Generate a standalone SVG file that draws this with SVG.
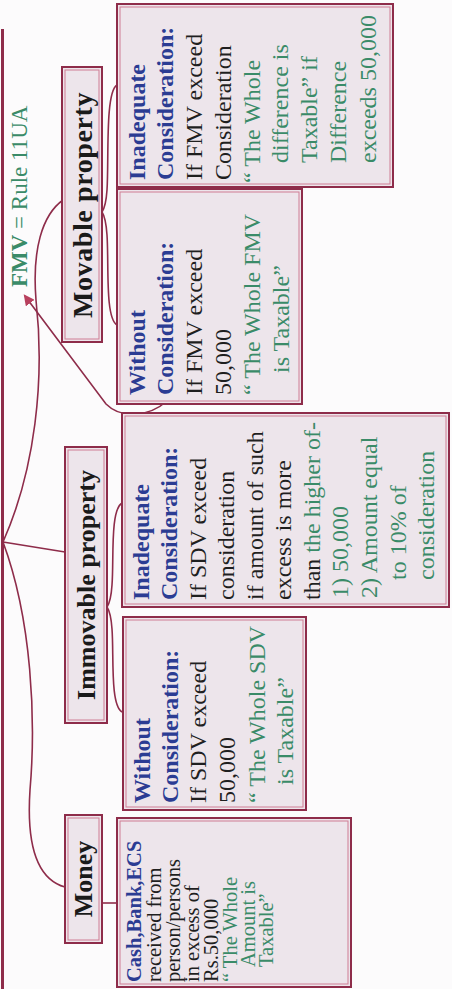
<svg xmlns="http://www.w3.org/2000/svg" width="452" height="989" viewBox="0 0 452 989">
<defs>
<style>
.box{fill:#ede5eb;stroke:#8e2c4a;stroke-width:2}
.inner{fill:none;stroke:#cf7d94;stroke-width:1}
.t{font-family:"Liberation Serif","Times New Roman",serif;font-size:24px;fill:#1f1f1f}
.s{font-size:20.5px}
.h{font-weight:bold;fill:#2b3c93}
.g{fill:#3a8b68}
.big{font-family:"Liberation Serif","Times New Roman",serif;font-size:26px;font-weight:bold;fill:#1a1a1a}
.c{fill:none;stroke:#8e2c4a;stroke-width:1.6}
</style>
<marker id="ah" viewBox="0 0 10 10" refX="8" refY="5" markerWidth="11" markerHeight="11" markerUnits="userSpaceOnUse" orient="auto">
<path d="M0,0 L10,5 L0,10 z" fill="#b8405e"/>
</marker>
</defs>
<rect width="452" height="989" fill="#fcfbfc"/>

<g id="connectors">
<line x1="2.5" y1="29" x2="2.5" y2="989" stroke="#8e2c4a" stroke-width="3"/>
<path class="c" d="M3,542 L65,552"/>
<path class="c" d="M3,542 C35,470 45,380 36,300 C32,250 42,215 63,200"/>
<path class="c" d="M3,542 C32,620 36,720 30,790 C26,850 40,880 65,887"/>
<path class="c" d="M102,903 L117,903"/>
<path class="c" d="M122,503 C110,510 114,560 112,585 C111,600 109,604 107,607 C109,610 111,614 112,629 C114,655 110,705 122,712"/>
<path class="c" d="M117,85 C105,92 109,160 107,190 C106,205 104,209 102,212 C104,215 106,220 107,235 C109,265 105,318 117,325"/>
<path class="c" d="M167,401 C150,416 122,420 106,404 L25,296" marker-end="url(#ah)"/>
</g>

<g id="fmv">
<text class="t g" transform="translate(0,287) rotate(-90)" x="0" y="27" style="font-size:23px"><tspan font-weight="bold">FMV</tspan> = Rule 11UA</text>
</g>

<g id="money">
<rect class="box" x="65" y="815" width="37" height="128"/>
<rect class="inner" x="68" y="818" width="31" height="122"/>
<text class="big" transform="translate(0,879) rotate(-90)" x="0" y="92" text-anchor="middle">Money</text>
</g>

<g id="immovable">
<rect class="box" x="65" y="447" width="42" height="276"/>
<rect class="inner" x="68" y="450" width="36" height="270"/>
<text class="big" transform="translate(0,585) rotate(-90)" x="0" y="95" text-anchor="middle">Immovable property</text>
</g>

<g id="movable">
<rect class="box" x="62" y="67" width="40" height="275"/>
<rect class="inner" x="65" y="70" width="34" height="269"/>
<text class="big" transform="translate(0,205) rotate(-90)" x="0" y="92" text-anchor="middle" style="font-size:28px;letter-spacing:0.6px">Movable property</text>
</g>

<g id="cash">
<rect class="box" x="117" y="818" width="234" height="169"/>
<rect class="inner" x="120" y="821" width="228" height="163"/>
<text class="t s" transform="translate(0,982) rotate(-90)">
<tspan class="h" x="0" y="141">Cash,Bank,ECS</tspan>
<tspan x="0" y="161">received from</tspan>
<tspan x="0" y="180">person/persons</tspan>
<tspan x="0" y="199">in excess of</tspan>
<tspan x="0" y="218">Rs.50,000</tspan>
<tspan class="g" x="0" y="237">“ The Whole</tspan>
<tspan class="g" x="15" y="255">Amount is</tspan>
<tspan class="g" x="15" y="273">Taxable”</tspan>
</text>
</g>

<g id="immovable-without">
<rect class="box" x="123" y="617" width="183" height="193"/>
<rect class="inner" x="126" y="620" width="177" height="187"/>
<text class="t" transform="translate(0,803) rotate(-90)">
<tspan class="h" x="0" y="150">Without</tspan>
<tspan class="h" x="0" y="178">Consideration:</tspan>
<tspan x="0" y="206">If SDV exceed</tspan>
<tspan x="0" y="235">50,000</tspan>
<tspan class="g" x="0" y="265">“ The Whole SDV</tspan>
<tspan class="g" x="18" y="293">is Taxable”</tspan>
</text>
</g>

<g id="immovable-inadequate">
<rect class="box" x="122" y="413" width="327" height="194"/>
<rect class="inner" x="125" y="416" width="321" height="188"/>
<text class="t" transform="translate(0,600) rotate(-90)">
<tspan class="h" x="0" y="149">Inadequate</tspan>
<tspan class="h" x="0" y="177">Consideration:</tspan>
<tspan x="0" y="206">If SDV exceed</tspan>
<tspan x="0" y="234">consideration</tspan>
<tspan x="0" y="263">if amount of such</tspan>
<tspan x="0" y="291">excess is more</tspan>
<tspan x="0" y="320">than <tspan class="g">the higher of-</tspan></tspan>
<tspan class="g" x="2" y="348">1) 50,000</tspan>
<tspan class="g" x="2" y="377">2) Amount equal</tspan>
<tspan class="g" x="20" y="406">to 10% of</tspan>
<tspan class="g" x="20" y="434">consideration</tspan>
</text>
</g>

<g id="movable-without">
<rect class="box" x="117" y="189" width="185" height="215"/>
<rect class="inner" x="120" y="192" width="179" height="209"/>
<text class="t" transform="translate(0,395) rotate(-90)">
<tspan class="h" x="0" y="145">Without</tspan>
<tspan class="h" x="0" y="173">Consideration:</tspan>
<tspan x="0" y="202">If FMV exceed</tspan>
<tspan x="0" y="231">50,000</tspan>
<tspan class="g" x="0" y="260">“ The Whole FMV</tspan>
<tspan class="g" x="22" y="289">is Taxable”</tspan>
</text>
</g>

<g id="movable-inadequate">
<rect class="box" x="117" y="4" width="276" height="183"/>
<rect class="inner" x="120" y="7" width="270" height="177"/>
<text class="t" transform="translate(0,180) rotate(-90)">
<tspan class="h" x="0" y="145">Inadequate</tspan>
<tspan class="h" x="0" y="173">Consideration:</tspan>
<tspan x="0" y="202">If FMV exceed</tspan>
<tspan x="0" y="231">Consideration</tspan>
<tspan class="g" x="-3" y="260">“ The Whole</tspan>
<tspan class="g" x="17" y="288">difference is</tspan>
<tspan class="g" x="17" y="317">Taxable” if</tspan>
<tspan class="g" x="17" y="346">Difference</tspan>
<tspan class="g" x="17" y="376">exceeds 50,000</tspan>
</text>
</g>
</svg>
